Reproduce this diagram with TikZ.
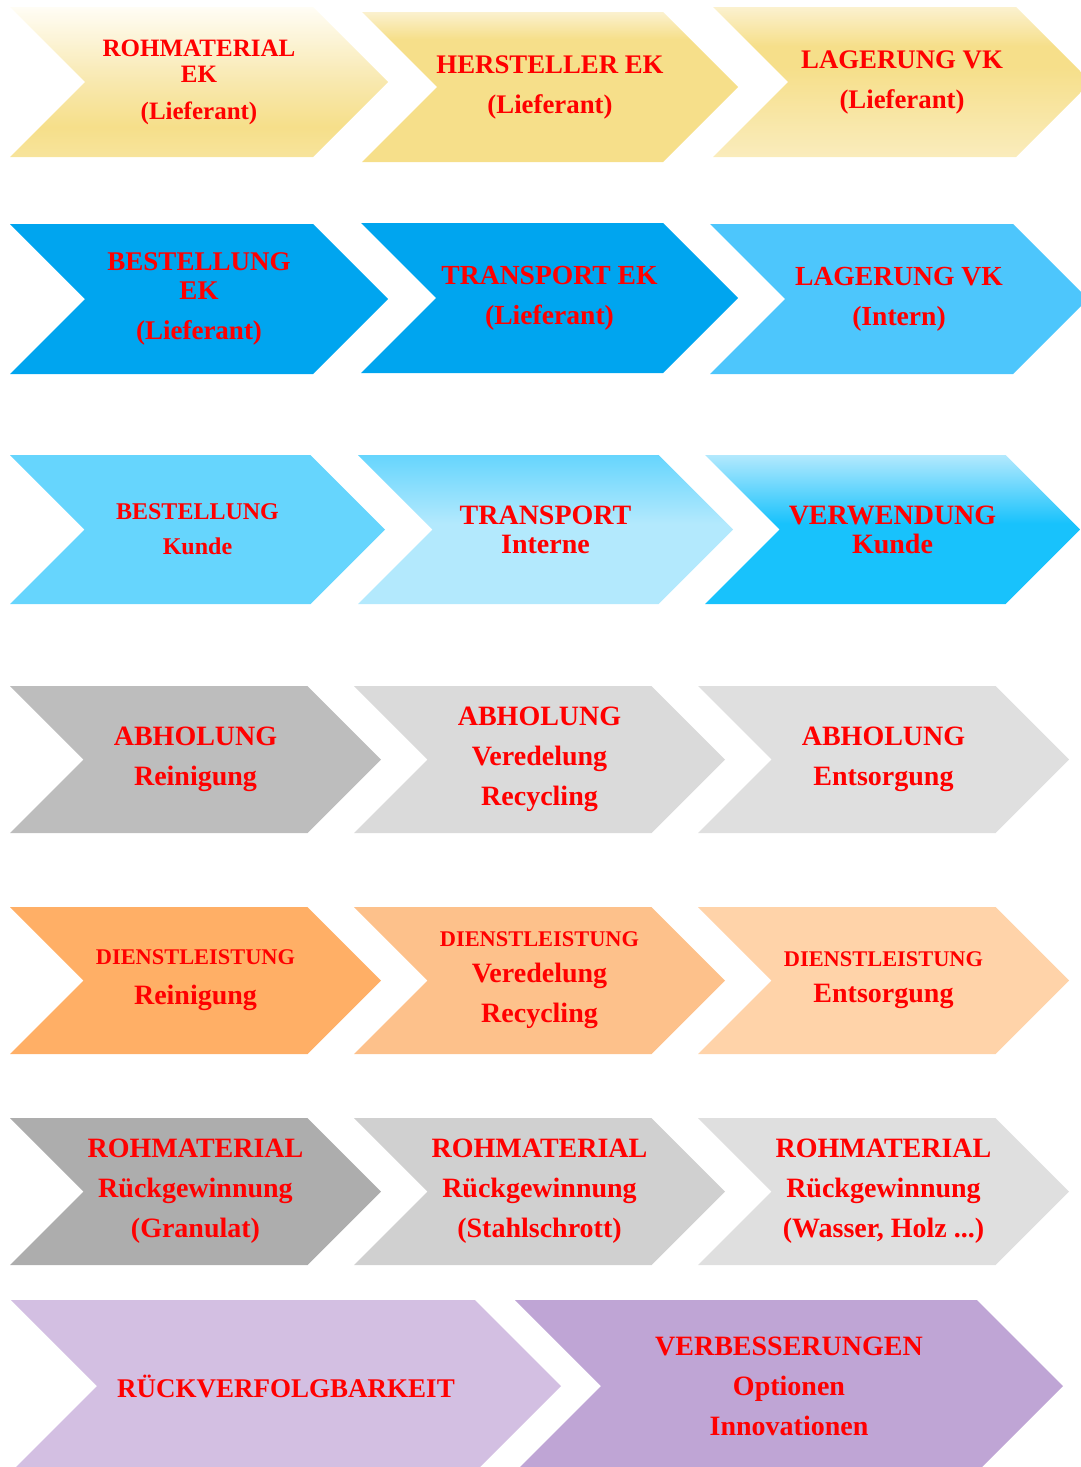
\documentclass[tikz,border=0pt]{standalone}
\usepackage{fontspec}
\setmainfont{Liberation Serif}

\definecolor{goldA}{HTML}{F6DF8A}
\definecolor{goldB}{HTML}{F8E8AE}
\definecolor{goldC}{HTML}{FAECBC}
\definecolor{goldD}{HTML}{FBF1CF}
\definecolor{goldE}{HTML}{FFFDF5}
\definecolor{blueA}{HTML}{00A5EF}
\definecolor{blueB}{HTML}{4DC6FC}
\definecolor{blueC}{HTML}{66D5FD}
\definecolor{blueD}{HTML}{B3E9FD}
\definecolor{blueE}{HTML}{18C2FC}
\definecolor{greyA}{HTML}{BDBDBD}
\definecolor{greyB}{HTML}{DADADA}
\definecolor{greyC}{HTML}{DFDFDF}
\definecolor{greyD}{HTML}{ADADAD}
\definecolor{greyE}{HTML}{D0D0D0}
\definecolor{orangeA}{HTML}{FFAF66}
\definecolor{orangeB}{HTML}{FDC18B}
\definecolor{orangeC}{HTML}{FFD3A9}
\definecolor{lilacA}{HTML}{D3BFE2}
\definecolor{lilacB}{HTML}{BFA5D5}
\definecolor{txtred}{HTML}{FF0000}

% vertical shadings, shape spans 25bp (bottom) to 75bp (top)
\pgfdeclareverticalshading{goldone}{100bp}{color(0bp)=(goldA!85!white); color(25bp)=(goldA!85!white);
  color(35bp)=(goldA); color(50bp)=(goldB); color(75bp)=(goldE); color(100bp)=(goldE)}
\pgfdeclareverticalshading{goldtwo}{100bp}{color(0bp)=(goldA); color(25bp)=(goldA);
  color(66bp)=(goldA); color(75bp)=(goldD); color(100bp)=(goldD)}
\pgfdeclareverticalshading{goldthree}{100bp}{color(0bp)=(goldC); color(25bp)=(goldC);
  color(55bp)=(goldA); color(62bp)=(goldA); color(75bp)=(goldD); color(100bp)=(goldD)}
\pgfdeclareverticalshading{skyone}{100bp}{color(0bp)=(blueD); color(25bp)=(blueD);
  color(52bp)=(blueD); color(75bp)=(blueC); color(100bp)=(blueC)}
\pgfdeclareverticalshading{skytwo}{100bp}{color(0bp)=(blueE); color(25bp)=(blueE);
  color(52bp)=(blueE); color(75bp)=(blueD); color(100bp)=(blueD)}

\tikzset{
  lbl/.style={text=txtred, align=center, inner sep=0pt},
  fA/.style={font=\fontsize{12.5}{13}\selectfont\bfseries},
  fB/.style={font=\fontsize{14}{20}\selectfont\bfseries},
  fC/.style={font=\fontsize{13.4}{20}\selectfont\bfseries},
  fD/.style={font=\fontsize{13.8}{20}\selectfont\bfseries},
  grad/.style={shade, shading=#1},
}

% chevron: name, x, y, width, height, fill, label options, label
\newcommand{\chev}[8]{%
  \path[#6] (#2,#3) -- ++({#4-#5/2},0) -- ++({#5/2},{#5/2}) -- ++({-#5/2},{#5/2})
    -- ++({-#4+#5/2},0) -- ++({#5/2},{-#5/2}) -- cycle;
  \node[lbl,#7] (#1) at ({#2+#4/2},{#3+#5/2}) {#8};}

\begin{document}
\begin{tikzpicture}[x=0.5pt,y=-0.5pt]
  \useasboundingbox (0,0) rectangle (1081,1467);
  \clip (0,0) rectangle (1081,1467);
  % supplier
  \chev{rohek}{10}{7}{378}{150}{grad=goldone}{fA}{ROHMATERIAL\\EK\\[5.5pt](Lieferant)}
  \chev{herek}{362}{12}{376}{150}{grad=goldtwo}{fC}{HERSTELLER EK\\(Lieferant)}
  \chev{lagvk}{713}{7}{378}{150}{grad=goldthree}{fC}{LAGERUNG VK\\(Lieferant)}
  % purchase
  \chev{bestek}{10}{224}{378}{150}{fill=blueA}{font=\fontsize{13.5}{14.5}\selectfont\bfseries}{BESTELLUNG\\EK\\[5.5pt](Lieferant)}
  \chev{transek}{361}{223}{377}{150}{fill=blueA}{fD}{TRANSPORT EK\\(Lieferant)}
  \chev{lagint}{710}{224}{378}{150}{fill=blueB}{fD}{LAGERUNG VK\\(Intern)}
  % customer
  \chev{bestku}{10}{455}{375}{149}{fill=blueC}{font=\fontsize{12}{17.5}\selectfont\bfseries}{BESTELLUNG\\Kunde}
  \chev{transin}{358}{455}{375}{149}{grad=skyone}{font=\fontsize{14}{14.5}\selectfont\bfseries}{TRANSPORT\\Interne}
  \chev{verwku}{705}{455}{375}{149}{grad=skytwo}{font=\fontsize{14}{14.5}\selectfont\bfseries}{VERWENDUNG\\Kunde}
  % pick-up
  \chev{abrein}{10}{686}{371}{147}{fill=greyA}{fB}{ABHOLUNG\\Reinigung}
  \chev{abrec}{354}{686}{371}{147}{fill=greyB}{fB}{ABHOLUNG\\Veredelung\\Recycling}
  \chev{abents}{698}{686}{371}{147}{fill=greyC}{fB}{ABHOLUNG\\Entsorgung}
  % service
  \chev{dlrein}{10}{907}{371}{147}{fill=orangeA}{fB}{{\fontsize{11.2}{12}\selectfont DIENSTLEISTUNG}\\Reinigung}
  \chev{dlrec}{354}{907}{371}{147}{fill=orangeB}{fB}{{\fontsize{11.2}{12}\selectfont DIENSTLEISTUNG}\\[-2pt]Veredelung\\Recycling}
  \chev{dlents}{698}{907}{371}{147}{fill=orangeC}{fB}{{\fontsize{11.2}{12}\selectfont DIENSTLEISTUNG}\\[-2pt]Entsorgung}
  % recovery
  \chev{rmgran}{10}{1118}{371}{147}{fill=greyD}{fB}{ROHMATERIAL\\Rückgewinnung\\(Granulat)}
  \chev{rmstahl}{354}{1118}{371}{147}{fill=greyE}{fB}{ROHMATERIAL\\Rückgewinnung\\(Stahlschrott)}
  \chev{rmholz}{698}{1118}{371}{147}{fill=greyC}{fB}{ROHMATERIAL\\Rückgewinnung\\(Wasser, Holz ...)}
  % trace
  \chev{rueck}{11}{1300}{550}{172}{fill=lilacA}{font=\fontsize{13.5}{20}\selectfont\bfseries}{RÜCKVERFOLGBARKEIT}
  \chev{verb}{515}{1300}{548}{172}{fill=lilacB}{fB}{VERBESSERUNGEN\\Optionen\\Innovationen}
\end{tikzpicture}
\end{document}
